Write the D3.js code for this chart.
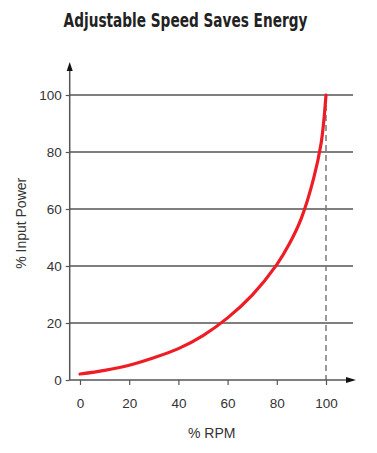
<!DOCTYPE html>
<html>
<head>
<meta charset="utf-8">
<script src="https://cdn.jsdelivr.net/npm/d3@7"></script>
<style>
  html, body { margin: 0; padding: 0; background: #fff; }
  svg { display: block; }
</style>
</head>
<body>
<svg id="chart" width="377" height="453"></svg>
<script>
// ---- data ----
const title = "Adjustable Speed Saves Energy";
const xLabel = "% RPM";
const yLabel = "% Input Power";
const xTicks = [0, 20, 40, 60, 80, 100];
const yTicks = [0, 20, 40, 60, 80, 100];
const rpm   = [0, 10, 20, 30, 40, 50, 60, 70, 80, 85, 90, 95, 98, 99, 100];
const power = [2.1, 3.4, 5.2, 7.8, 11.0, 15.6, 21.8, 29.8, 40.5, 47.6, 56.8, 70.8, 83.0, 90.0, 100];
const fullSpeed = 100;

// ---- layout ----
const svg = d3.select("#chart");
const x = d3.scaleLinear().domain([0, 100]).range([80, 326]);
const y = d3.scaleLinear().domain([0, 100]).range([380, 95]);
const axisX = x(0) - 10.3;   // position of vertical axis line
const axisY = y(0);
const gridEnd = x(100) + 27;
const font = "'Liberation Sans', Arial, Helvetica, sans-serif";
const textColor = "#333";
const lineColor = "#555";

// title: condensed bold, squeezed horizontally to the reference width
const titleG = svg.append("g");
const titleText = titleG.append("text")
  .attr("x", 0).attr("y", 0)
  .attr("text-anchor", "middle")
  .attr("font-family", "'Liberation Sans Narrow', 'DejaVu Sans Condensed', Arial, sans-serif")
  .attr("font-weight", "bold")
  .attr("font-size", 20)
  .attr("fill", "#222")
  .text(title);
const w0 = titleText.node().getComputedTextLength();
const k = w0 > 0 ? Math.min(1, 244 / w0) : 1;
titleG.attr("transform", `translate(185.5,27) scale(${k},1)`);

// horizontal grid lines
svg.append("g").selectAll("line")
  .data(yTicks.filter(d => d > 0))
  .join("line")
  .attr("x1", axisX).attr("x2", gridEnd)
  .attr("y1", d => y(d)).attr("y2", d => y(d))
  .attr("stroke", lineColor).attr("stroke-width", 1.3);

// dashed vertical line at full speed
svg.append("line")
  .attr("x1", x(fullSpeed)).attr("x2", x(fullSpeed))
  .attr("y1", y(100)).attr("y2", axisY)
  .attr("stroke", "#7a7a7a").attr("stroke-width", 1.5)
  .attr("stroke-dasharray", "6,4");

// y axis (ticks + labels)
const gy = svg.append("g")
  .attr("transform", `translate(${axisX},0)`)
  .call(d3.axisLeft(y).tickValues(yTicks).tickSize(4).tickPadding(4));
gy.select(".domain").remove();
gy.selectAll(".tick line").attr("stroke", lineColor).attr("stroke-width", 1.2);
gy.selectAll(".tick text").attr("font-family", font).attr("font-size", 13.5).attr("fill", textColor);

// x axis (ticks + labels)
const gx = svg.append("g")
  .attr("transform", `translate(0,${axisY})`)
  .call(d3.axisBottom(x).tickValues(xTicks).tickSize(5).tickPadding(13));
gx.select(".domain").remove();
gx.selectAll(".tick line").attr("stroke", lineColor).attr("stroke-width", 1.2);
gx.selectAll(".tick text").attr("font-family", font).attr("font-size", 13.5).attr("fill", textColor);

// axis lines with arrows
svg.append("line")
  .attr("x1", axisX).attr("x2", axisX)
  .attr("y1", axisY).attr("y2", y(100) - 25)
  .attr("stroke", lineColor).attr("stroke-width", 1.5);
svg.append("path")
  .attr("d", `M${axisX},${y(100) - 33} L${axisX - 3},${y(100) - 24} L${axisX + 3},${y(100) - 24} Z`)
  .attr("fill", "#111");
svg.append("line")
  .attr("x1", axisX).attr("x2", x(100) + 22)
  .attr("y1", axisY).attr("y2", axisY)
  .attr("stroke", lineColor).attr("stroke-width", 1.5);
svg.append("path")
  .attr("d", `M${x(100) + 30},${axisY} L${x(100) + 20},${axisY - 3} L${x(100) + 20},${axisY + 3} Z`)
  .attr("fill", "#111");

// curve
const line = d3.line()
  .x((d, i) => x(rpm[i]))
  .y(d => y(d))
  .curve(d3.curveCatmullRom.alpha(0.5));
svg.append("path")
  .datum(power)
  .attr("d", line)
  .attr("fill", "none")
  .attr("stroke", "#ee1c25")
  .attr("stroke-width", 3.2)
  .attr("stroke-linecap", "round");

// axis titles
svg.append("text")
  .attr("x", 211.7).attr("y", 437.7)
  .attr("text-anchor", "middle")
  .attr("font-family", font).attr("font-size", 14).attr("fill", textColor)
  .text(xLabel);
svg.append("text")
  .attr("transform", "translate(25.7,223.3) rotate(-90)")
  .attr("text-anchor", "middle")
  .attr("font-family", font).attr("font-size", 14).attr("fill", textColor)
  .text(yLabel);
</script>
</body>
</html>
